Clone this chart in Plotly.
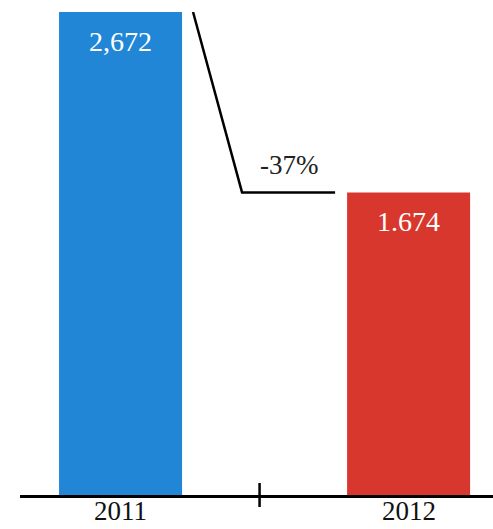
import plotly.graph_objects as go

# Data
years = ["2011", "2012"]
values = [2672, 1674]
value_labels = ["2,672", "1.674"]
bar_colors = ["#2186d6", "#d8372d"]

W, H = 493, 529
ML, MR, MT, MB = 20, 0, 12, 34
plot_w = W - ML - MR
plot_h = H - MT - MB

x_pos = list(range(len(years)))
bar_width = 0.427
x_range = [-0.349, 1.293]
y_range = [0, max(values)]

px_per_x = plot_w / (x_range[1] - x_range[0])

font_family = "Liberation Serif, DejaVu Serif, serif"

fig = go.Figure()
fig.add_trace(go.Bar(
    x=x_pos,
    y=values,
    width=bar_width,
    marker=dict(color=bar_colors, line=dict(width=0)),
    hoverinfo="skip",
))

# Value labels inside the bars, near the top
for xi, v, lab in zip(x_pos, values, value_labels):
    fig.add_annotation(
        x=xi, y=v, text=lab, showarrow=False,
        xanchor="center", yanchor="top", yshift=-12,
        font=dict(family=font_family, size=28, color="white"),
    )

# Category labels under the axis line, kept inside the page
for xi, yr in zip(x_pos, years):
    fig.add_annotation(
        x=xi, y=0, xref="x", yref="paper", text=yr, showarrow=False,
        xanchor="center", yanchor="bottom", yshift=-MB + 1,
        font=dict(family=font_family, size=27, color="#111111"),
    )

# Change connector: from the first bar's top down to the second bar's level
gap = 11 / px_per_x
x_start = x_pos[0] + bar_width / 2 + gap
x_knee = x_start + 49 / px_per_x
x_end = x_pos[1] - bar_width / 2 - 12 / px_per_x
fig.add_trace(go.Scatter(
    x=[x_start, x_knee, x_end],
    y=[values[0], values[1], values[1]],
    mode="lines",
    line=dict(color="black", width=2.5),
    hoverinfo="skip",
    cliponaxis=False,
))

change = round((values[1] / values[0] - 1) * 100)
fig.add_annotation(
    x=(x_knee + x_end) / 2, y=values[1], text=f"{change}%",
    showarrow=False, xanchor="center", yanchor="bottom", yshift=10,
    font=dict(family=font_family, size=27, color="#222222"),
)

# Separator tick between the two categories
mid = (x_pos[0] + x_pos[1]) / 2
tick_half = 12 / plot_h
fig.add_shape(
    type="line", xref="x", yref="paper",
    x0=mid - 5 / px_per_x, x1=mid - 5 / px_per_x, y0=-tick_half, y1=tick_half,
    line=dict(color="black", width=2.5),
)

fig.update_layout(
    width=W, height=H,
    margin=dict(l=ML, r=MR, t=MT, b=MB),
    paper_bgcolor="white", plot_bgcolor="white",
    showlegend=False,
    xaxis=dict(
        range=x_range, showticklabels=False,
        showline=True, linecolor="black", linewidth=2.5,
        showgrid=False, zeroline=False, ticks="",
        automargin=False, fixedrange=True,
    ),
    yaxis=dict(
        range=y_range, visible=False, showgrid=False, zeroline=False,
        automargin=False, fixedrange=True,
    ),
)

fig.write_html("out.html")
